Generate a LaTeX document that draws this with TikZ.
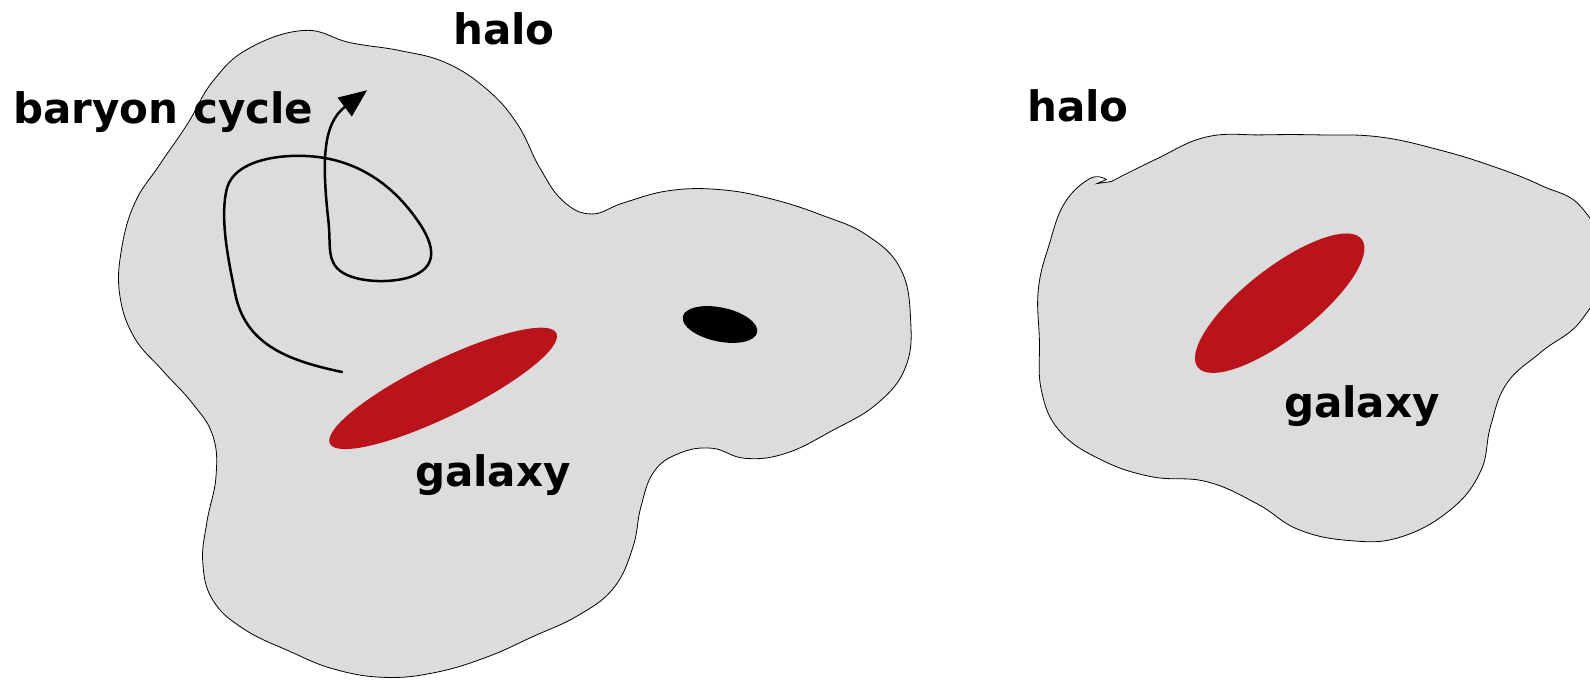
\documentclass[tikz,border=0pt]{standalone}
\usepackage{fontspec}
\setmainfont{DejaVu Sans}
\usetikzlibrary{arrows.meta,shapes.geometric}
\definecolor{halogray}{RGB}{220,220,220}
\definecolor{galred}{RGB}{185,20,27}
\tikzset{
  halo/.style={fill=halogray,draw=black,line width=0.8pt},
  lbl/.style={font=\bfseries\fontsize{42}{50}\selectfont,inner sep=0pt,anchor=base},
  gal/.style={ellipse,fill=galred,inner sep=0pt},
  cyc/.style={line width=2.5pt,line cap=butt,-{Triangle[length=28pt,width=23pt]}}
}
\begin{document}
\begin{tikzpicture}[x=1.014pt,y=-1.014pt]
\useasboundingbox (0,0) rectangle (1568,671);
\clip (0,0) rectangle (1568,671);
% left halo
\draw[halo] plot[smooth cycle,tension=0.7] coordinates {
(300,30) (345,42) (395,50) (440,62) (480,88) (510,122) (532,165) (555,198) (583,211) (615,200) (660,188) (710,187) (760,196) (810,212) (855,232) (888,265) (898,315) (893,362) (865,398) (820,425) (775,447) (735,452) (702,442) (670,447) (645,465) (632,500) (624,540) (605,580) (570,607) (525,628) (480,648) (430,663) (380,668) (330,660) (285,642) (240,620) (210,592) (200,555) (204,515) (213,470) (210,430) (190,398) (160,365) (132,332) (118,290) (120,245) (133,200) (157,163) (185,122) (210,80) (245,48)};
% right halo
\fill[halogray] plot[smooth cycle,tension=0.7] coordinates {
(1096,179) (1140,157) (1190,135) (1245,133) (1300,133) (1360,135) (1420,148) (1475,165) (1520,183) (1560,205) (1585,260) (1560,315) (1520,347) (1486,378) (1470,420) (1460,465) (1430,503) (1380,530) (1330,533) (1280,522) (1240,497) (1190,475) (1135,470) (1085,453) (1045,425) (1027,385) (1025,335) (1024,285) (1035,240) (1050,200) (1075,176)};
\draw[line width=0.8pt] plot[smooth,tension=0.7] coordinates {
(1096,179) (1140,157) (1190,135) (1245,133) (1300,133) (1360,135) (1420,148) (1475,165) (1520,183) (1560,205) (1585,260) (1560,315) (1520,347) (1486,378) (1470,420) (1460,465) (1430,503) (1380,530) (1330,533) (1280,522) (1240,497) (1190,475) (1135,470) (1085,453) (1045,425) (1027,385) (1025,335) (1024,285) (1035,240) (1050,200) (1075,176) (1091,177)} -- (1082,181) -- (1096,179);
% galaxies
\node[gal,minimum width=252pt,minimum height=56pt,rotate=26] (galL) at (437,383) {};
\node[gal,minimum width=208pt,minimum height=70pt,rotate=38] (galR) at (1262,299) {};
\node[ellipse,fill=black,inner sep=0pt,minimum width=76pt,minimum height=34pt,rotate=-12] (blob) at (710,320) {};
% baryon cycle
\coordinate (cycStart) at (338,367);
\coordinate (cycEnd) at (362,89);
\draw[cyc] (cycStart) .. controls (280,355) and (242,338) .. (232,290)
  .. controls (226,260) and (216,215) .. (224,185)
  .. controls (232,158) and (275,152) .. (305,154)
  .. controls (350,157) and (385,180) .. (410,215)
  .. controls (432,245) and (430,264) .. (405,273)
  .. controls (385,280) and (345,279) .. (332,264)
  .. controls (322,252) and (327,240) .. (323,210)
  .. controls (318,160) and (318,122) .. (cycEnd);
% labels
\node[lbl] (haloL) at (497,44) {halo};
\node[lbl] (cycle) at (161,122) {baryon cycle};
\node[lbl] (haloR) at (1063,120) {halo};
\node[lbl] (galaxyL) at (486,480) {galaxy};
\node[lbl] (galaxyR) at (1343,412) {galaxy};
\end{tikzpicture}
\end{document}
